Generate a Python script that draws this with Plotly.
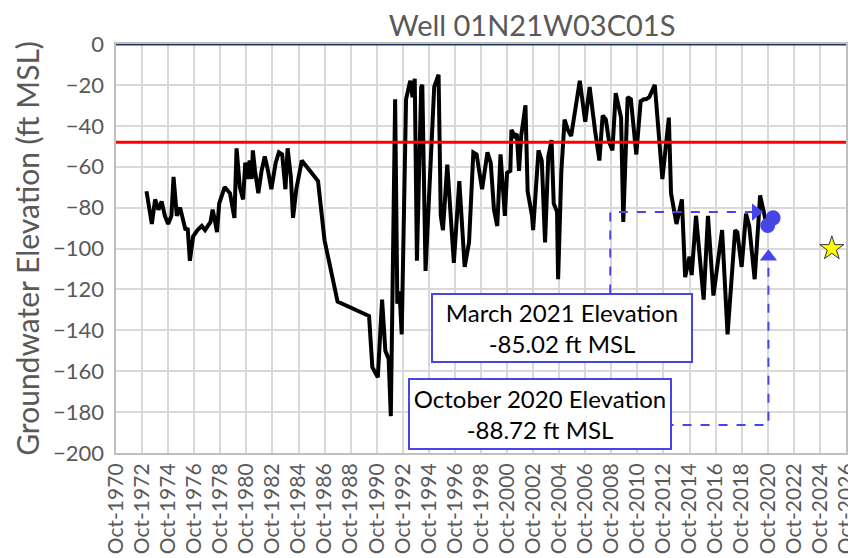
import plotly.graph_objects as go

# groundwater level readings
dates = [
    "1973-02", "1973-07", "1973-10", "1974-01", "1974-04", "1974-07", "1974-10",
    "1975-01", "1975-03", "1975-06", "1975-09", "1975-11", "1976-02", "1976-04",
    "1976-06", "1976-09", "1977-01", "1977-05", "1977-08", "1978-01", "1978-03",
    "1978-05", "1978-07", "1978-09", "1979-02", "1979-07", "1979-11", "1980-01",
    "1980-04", "1980-07", "1980-09", "1980-11", "1981-01", "1981-03", "1981-04",
    "1981-06", "1981-09", "1981-12", "1982-03", "1982-06", "1982-09", "1983-01",
    "1983-04", "1983-07", "1983-10", "1983-12", "1984-03", "1984-05", "1984-08",
    "1985-01", "1986-04", "1986-10", "1987-10", "1990-03", "1990-06", "1990-11",
    "1991-03", "1991-06", "1991-09", "1991-11", "1992-03", "1992-05", "1992-07",
    "1992-09", "1993-01", "1993-04", "1993-05", "1993-07", "1993-09", "1993-11",
    "1994-03", "1994-04", "1994-07", "1995-03", "1995-07", "1995-09", "1995-11",
    "1996-03", "1996-06", "1996-09", "1997-02", "1997-06", "1997-07", "1997-11",
    "1998-03", "1998-06", "1998-11", "1999-04", "1999-07", "1999-10", "2000-01",
    "2000-04", "2000-08", "2000-10", "2001-01", "2001-02", "2001-05", "2001-07",
    "2001-09", "2001-11", "2002-03", "2002-05", "2002-09", "2002-10", "2003-03",
    "2003-06", "2003-09", "2003-12", "2004-03", "2004-05", "2004-08", "2004-09",
    "2004-12", "2005-03", "2005-06", "2005-09", "2006-01", "2006-05", "2006-10",
    "2007-02", "2007-07", "2007-11", "2008-02", "2008-05", "2008-08", "2008-11",
    "2009-02", "2009-07", "2009-09", "2010-01", "2010-04", "2010-09", "2011-01",
    "2011-04", "2011-06", "2011-09", "2012-02", "2012-09", "2013-03", "2013-05",
    "2013-10", "2014-03", "2014-06", "2014-10", "2014-12", "2015-04", "2015-11",
    "2016-03", "2016-08", "2017-04", "2017-09", "2018-04", "2018-06", "2018-10",
    "2019-02", "2019-05", "2019-10", "2020-03", "2020-08", "2020-10",
]
elev = [
    -72, -88, -76, -81, -77, -84, -88,
    -84, -65, -84, -80, -85, -91, -90,
    -106, -94, -91, -89, -91, -87, -81,
    -86, -92, -78, -70, -73, -85, -51,
    -70, -76, -58, -66, -57, -66, -52,
    -62, -73, -62, -55, -62, -71, -58,
    -53, -54, -71, -51, -65, -85, -71,
    -57, -67, -96, -126, -133, -158, -163,
    -125, -150, -154, -182, -27, -127, -121,
    -142, -27, -20, -18, -26, -17, -106,
    -21, -20, -111, -21, -15, -84, -91,
    -59, -85, -107, -67, -101, -109, -97,
    -53, -54, -71, -53, -58, -81, -89,
    -54, -84, -63, -62, -42, -45, -44,
    -62, -45, -30, -72, -84, -91, -52,
    -57, -97, -55, -47, -78, -82, -115,
    -62, -37, -42, -45, -31, -18, -38,
    -21, -42, -57, -35, -37, -48, -52,
    -24, -36, -87, -26, -27, -54, -28,
    -27, -27, -26, -20, -66, -36, -73,
    -88, -76, -114, -104, -113, -84, -125,
    -84, -123, -91, -142, -91, -92, -109,
    -83, -89, -115, -74, -86, -88.72,
]

# highlighted readings
pt_dates = ["2020-10", "2021-03"]
pt_elev = [-88.72, -85.02]

star_date = ["2025-09"]
star_elev = [-100]

ref_level = -48

blue = "#4646E6"
gray_txt = "#595959"
font = "Lato"

fig = go.Figure()

fig.add_trace(go.Scatter(
    x=dates, y=elev, mode="lines",
    line=dict(color="black", width=4),
    hoverinfo="x+y",
))

# dashed connectors from the boxes to the points
fig.add_trace(go.Scatter(
    x=["2008-09", "2008-09", "2019-08"], y=[-122, -82.2, -82.2],
    mode="lines", line=dict(color=blue, width=2, dash="dash"),
))
fig.add_trace(go.Scatter(
    x=["2019-11"], y=[-82.2], mode="markers",
    marker=dict(symbol="triangle-right", color=blue, size=15),
))
fig.add_trace(go.Scatter(
    x=["2012-11", "2020-10-20", "2020-10-20"], y=[-186.3, -186.3, -107],
    mode="lines", line=dict(color=blue, width=2, dash="dash"),
))
fig.add_trace(go.Scatter(
    x=["2020-10-20"], y=[-104], mode="markers",
    marker=dict(symbol="triangle-up", color=blue, size=15),
))

fig.add_trace(go.Scatter(
    x=pt_dates, y=pt_elev, mode="markers",
    marker=dict(color=blue, size=15),
))
fig.add_trace(go.Scatter(
    x=star_date, y=star_elev, mode="markers",
    marker=dict(symbol="star", color="#FFFF00", size=18,
                line=dict(color="#333333", width=1)),
))

# reference level and zero line
fig.add_shape(type="line", xref="paper", x0=0, x1=1, y0=ref_level, y1=ref_level,
              line=dict(color="#FF0000", width=3))
fig.add_shape(type="line", xref="paper", x0=0, x1=1, y0=0, y1=0,
              line=dict(color="#203864", width=3))

fig.add_annotation(
    x="2005-01", y=-138.9, text="March 2021 Elevation<br>-85.02 ft MSL",
    showarrow=False, font=dict(family=font, size=24, color="black"),
    bgcolor="white", bordercolor=blue, borderwidth=2,
    width=256, height=64, borderpad=1,
)
fig.add_annotation(
    x="2003-04", y=-180.9, text="October 2020 Elevation<br>-88.72 ft MSL",
    showarrow=False, font=dict(family=font, size=24, color="black"),
    bgcolor="white", bordercolor=blue, borderwidth=2,
    width=258, height=66, borderpad=1,
)

fig.update_xaxes(
    type="date", range=["1970-10-01", "2026-10-03"],
    tick0="1970-10-01", dtick="M24", tickformat="%b-%Y", tickangle=-90,
    ticklabeloverflow="allow",
    showgrid=True, gridcolor="#d9d9d9", gridwidth=1.5,
    showline=True, linecolor="#bfbfbf", linewidth=2, mirror=True,
    tickfont=dict(family=font, size=21, color=gray_txt),
    ticks="", zeroline=False,
)
fig.update_yaxes(
    range=[-200, 0], dtick=20,
    showgrid=True, gridcolor="#d9d9d9", gridwidth=1.5,
    showline=True, linecolor="#bfbfbf", linewidth=2, mirror=True,
    tickfont=dict(family=font, size=22, color=gray_txt),
    title=dict(text="Groundwater Elevation (ft MSL)", standoff=4,
               font=dict(family=font, size=30, color=gray_txt)),
    zeroline=False, ticksuffix=" ",
)

fig.update_layout(
    width=848, height=550,
    margin=dict(l=108, r=10, t=36, b=105, autoexpand=False),
    paper_bgcolor="white", plot_bgcolor="white",
    showlegend=False,
    title=dict(text="Well 01N21W03C01S", xref="container", x=0.618,
               xanchor="center", yref="container", y=0.967, yanchor="middle",
               font=dict(family=font, size=29, color=gray_txt)),
)

fig.write_html("out.html")
